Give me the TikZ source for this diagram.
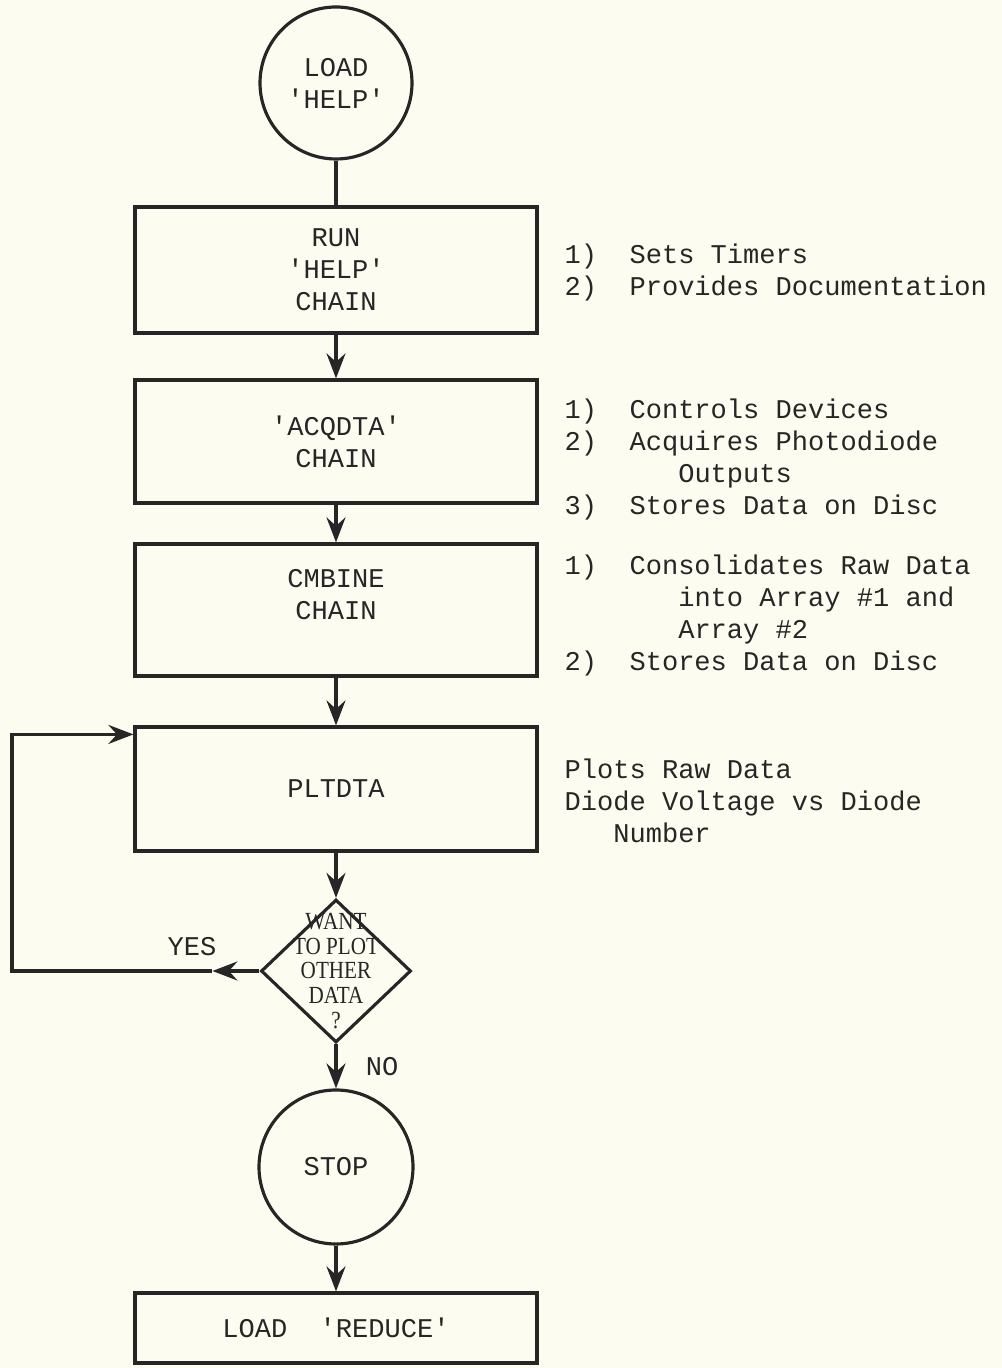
\documentclass[tikz,border=0pt]{standalone}
\usepackage{fontspec}
\usepackage{xcolor}
\usetikzlibrary{arrows.meta,shapes.geometric}
\newfontfamily\typer{Liberation Mono}
\newfontfamily\narrowserif[FakeStretch=0.86]{Liberation Serif}
\newcommand{\sq}{\textquotesingle}
\definecolor{inkgray}{HTML}{262626}
\definecolor{papercream}{HTML}{FCFCF1}

\begin{document}
\begin{tikzpicture}[line width=1.8pt, >={Stealth[length=0.5cm, width=0.38cm, inset=0.17cm]},
  chainbox/.style={draw=inkgray, rectangle, minimum width=8.04cm, align=center, inner sep=0pt,
    font=\typer\fontsize{15.4pt}{18.2pt}\selectfont, text=inkgray},
  termcircle/.style={draw=inkgray, circle, align=center, inner sep=0pt,
    font=\typer\fontsize{15.4pt}{18.2pt}\selectfont, text=inkgray},
  decide/.style={draw=inkgray, diamond, minimum width=3cm, minimum height=2.86cm, inner sep=0pt},
  note/.style={anchor=north west, align=left, inner sep=0pt,
    font=\typer\fontsize{15.4pt}{18.2pt}\selectfont, text=inkgray},
  flow/.style={draw=inkgray, ->}]
  \fill[papercream] (0,0) rectangle (20.04,27.36);
  \useasboundingbox (0,0) rectangle (20.04,27.36);

  % main column
  \node[termcircle, minimum size=3.04cm] (loadhelp) at (6.72,25.70) {LOAD\\\sq HELP\sq};
  \node[chainbox, minimum height=2.52cm] (runhelp) at (6.72,21.96) {RUN\\\sq HELP\sq\\CHAIN};
  \node[chainbox, minimum height=2.46cm] (acqdta) at (6.72,18.53) {\sq ACQDTA\sq\\CHAIN};
  \node[chainbox, minimum height=2.64cm] (cmbine) at (6.72,15.16) {CMBINE\\CHAIN\\\mbox{}};
  \node[chainbox, minimum height=2.48cm] (pltdta) at (6.72,11.58) {PLTDTA};
  \node[decide, label={[align=center, inner sep=0pt, text=inkgray,
      font=\narrowserif\fontsize{14pt}{14pt}\selectfont]center:WANT\\TO PLOT\\OTHER\\DATA\\?}] (plotmore) at (6.72,7.94) {};
  \node[termcircle, minimum size=3.08cm] (stop) at (6.72,4.02) {STOP};
  \node[chainbox, minimum height=1.4cm] (reduce) at (6.72,0.80) {LOAD\ \ \sq REDUCE\sq};

  \draw[inkgray] (loadhelp) -- (runhelp);
  \draw[flow] (runhelp) -- (acqdta);
  \draw[flow] (acqdta) -- (cmbine);
  \draw[flow] (cmbine) -- (pltdta);
  \draw[flow] (pltdta) -- (plotmore);
  \draw[flow] (plotmore) -- (stop);
  \draw[flow] (stop) -- (reduce);

  % loop back
  \coordinate (leftrail) at (0.24,0);
  \coordinate (yesmid) at ([xshift=-0.94cm]plotmore.west);
  \coordinate (loopin) at ([yshift=-0.18cm]pltdta.north west);
  \draw[flow] (plotmore.west) -- (yesmid);
  \draw[flow] (yesmid) -- (yesmid -| leftrail) |- (loopin);
  \node[text=inkgray, font=\typer\fontsize{15.4pt}{18.2pt}\selectfont] (yes) at (3.84,8.42) {YES};
  \node[text=inkgray, font=\typer\fontsize{15.4pt}{18.2pt}\selectfont] (no) at (7.64,6.02) {NO};

  % notes
  \node[note] (helpnote) at (11.26,22.52) {1)~~Sets Timers\\2)~~Provides Documentation};
  \node[note] (acqnote) at (11.26,19.42) {1)~~Controls Devices\\2)~~Acquires Photodiode\\~~~~~~~Outputs\\3)~~Stores Data on Disc};
  \node[note] (cmbnote) at (11.26,16.30) {1)~~Consolidates Raw Data\\~~~~~~~into Array \#1 and\\~~~~~~~Array \#2\\2)~~Stores Data on Disc};
  \node[note] (pltnote) at (11.26,12.22) {Plots Raw Data\\Diode Voltage vs Diode\\~~~Number};
\end{tikzpicture}
\end{document}
